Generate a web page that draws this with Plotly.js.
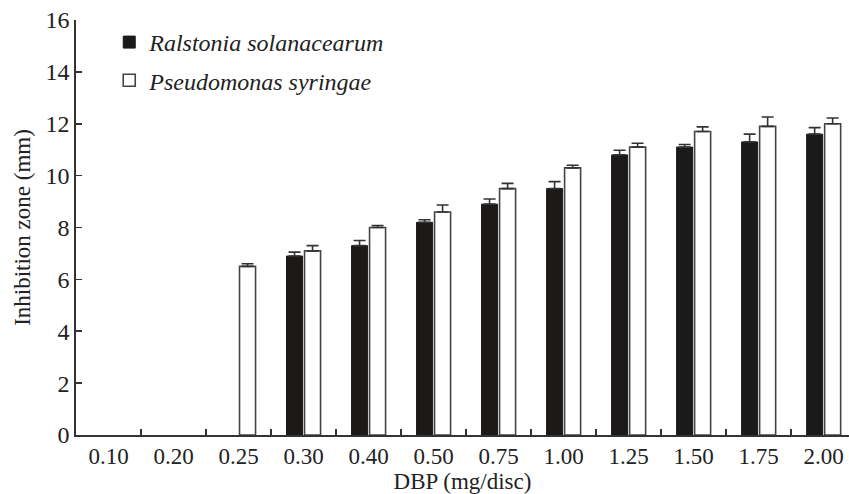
<!DOCTYPE html>
<html>
<head>
<meta charset="utf-8">
<script src="https://cdn.plot.ly/plotly-3.0.1.min.js"></script>
<style>html,body{margin:0;padding:0;background:#fff;}#chart{width:849px;height:494px;}</style>
</head>
<body>
<div id="chart"></div>
<script>
var categories = ["0.10","0.20","0.25","0.30","0.40","0.50","0.75","1.00","1.25","1.50","1.75","2.00"];
var ralstonia = [null, null, null, 6.9, 7.3, 8.2, 8.9, 9.5, 10.8, 11.1, 11.3, 11.6];
var ralstoniaErr = [0, 0, 0, 0.15, 0.2, 0.1, 0.2, 0.27, 0.18, 0.1, 0.3, 0.25];
var pseudomonas = [null, null, 6.5, 7.1, 8.0, 8.6, 9.5, 10.3, 11.1, 11.7, 11.9, 12.0];
var pseudomonasErr = [0, 0, 0.1, 0.2, 0.08, 0.27, 0.2, 0.1, 0.15, 0.18, 0.36, 0.22];
var zeros = categories.map(function(){return 0;});
var yTicks = [0,2,4,6,8,10,12,14,16];

var serif = "Liberation Serif, Times New Roman, DejaVu Serif, serif";
var traces = [
  {
    type: "bar", name: "Ralstonia solanacearum", x: categories, y: ralstonia,
    marker: {color: "#1c1a18", line: {color: "#1c1a18", width: 1}},
    error_y: {type: "data", symmetric: false, array: ralstoniaErr, arrayminus: zeros, color: "#333", thickness: 1.6, width: 6},
    legendgroup: "a"
  },
  {
    type: "bar", name: "Pseudomonas syringae", x: categories, y: pseudomonas,
    marker: {color: "#ffffff", line: {color: "#444", width: 1.6}},
    error_y: {type: "data", symmetric: false, array: pseudomonasErr, arrayminus: zeros, color: "#333", thickness: 1.6, width: 6},
    legendgroup: "b"
  }
];

var layout = {
  width: 849, height: 494,
  margin: {l: 76, r: 0, t: 20, b: 59},
  paper_bgcolor: "#fff", plot_bgcolor: "#fff",
  barmode: "group", bargap: 0.446, bargroupgap: 0.11,
  font: {family: serif, color: "#222", size: 24},
  showlegend: true,
  legend: {x: 0.043, y: 1.0, xanchor: "left", yanchor: "top", bgcolor: "rgba(0,0,0,0)",
           font: {family: serif, size: 24, color: "#222", style: "italic"}, traceorder: "grouped", tracegroupgap: 4},
  xaxis: {
    type: "category", range: [-0.5, 11.39], showline: true, linecolor: "#333", linewidth: 1.6,
    ticks: "inside", tickson: "boundaries", ticklen: 6, tickcolor: "#333", tickwidth: 1.6,
    showgrid: false, zeroline: false, tickfont: {family: serif, size: 23, color: "#222"},
    title: {text: "DBP (mg/disc)", font: {family: serif, size: 23, color: "#222"}, standoff: 4}
  },
  yaxis: {
    range: [0, 16], tickvals: yTicks, showline: true, linecolor: "#333", linewidth: 1.6,
    ticks: "inside", ticklen: 6, tickcolor: "#333", tickwidth: 1.6,
    showgrid: false, zeroline: false, tickfont: {family: serif, size: 24, color: "#222"},
    title: {text: "Inhibition zone (mm)", font: {family: serif, size: 23, color: "#222"}, standoff: 8}
  }
};
Plotly.newPlot("chart", traces, layout, {displayModeBar: false, staticPlot: true});
</script>
</body>
</html>
